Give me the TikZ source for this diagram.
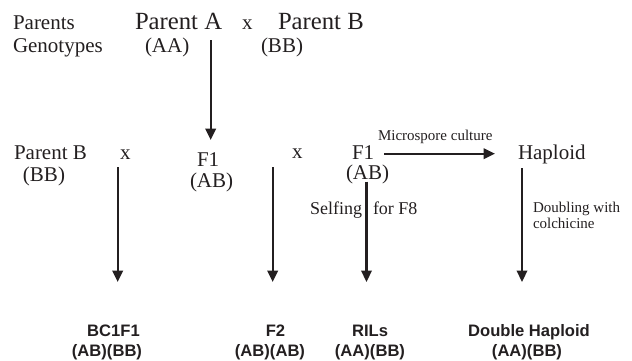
\documentclass[tikz,border=0pt]{standalone}
\usepackage{fontspec}
\setmainfont{Liberation Serif}
\newfontfamily\arialfont{Liberation Sans}
\usetikzlibrary{arrows.meta}
\definecolor{ink}{RGB}{35,31,32}
\tikzset{
  txt/.style={inner sep=0pt, outer sep=0pt, text=ink, anchor=base west},
  big/.style={txt, font=\fontsize{24.7}{28}\selectfont},
  mid/.style={txt, font=\fontsize{21}{25}\selectfont},
  sel/.style={txt, font=\fontsize{18}{21}\selectfont},
  sml/.style={txt, font=\fontsize{15}{18}\selectfont},
  res/.style={inner sep=0pt, outer sep=0pt, text=ink, anchor=base, font=\arialfont\bfseries\fontsize{16.6}{20}\selectfont},
  arr/.style={draw=ink, line width=2.2pt, -{Triangle[width=10.5pt,length=11.5pt]}}
}
\begin{document}
\begin{tikzpicture}[x=1pt,y=-1pt]
\useasboundingbox (0,0) rectangle (632,360);
% top row
\node[mid] (parents) at (13,29) {Parents};
\node[mid] (genotypes) at (13,52) {Genotypes};
\node[big] (pA) at (135,29) {Parent A};
\node[mid] (x0) at (242,29) {x};
\node[big] (pB) at (278,29) {Parent B};
\node[mid] (aa) at (145,52) {(AA)};
\node[mid] (bb) at (261,52) {(BB)};
% middle row
\node[mid] (pB2) at (14,159) {Parent B};
\node[mid] (bb2) at (23,181.5) {(BB)};
\node[mid] (x1) at (120,159) {x};
\node[mid] (f1a) at (197,166) {F1};
\node[mid] (ab1) at (190,187) {(AB)};
\node[mid] (x2) at (292,158) {x};
\node[mid] (f1b) at (352,159) {F1};
\node[mid] (ab2) at (346,179.5) {(AB)};
\node[mid] (hap) at (518,159) {Haploid};
\node[sml] (micro) at (378,140) {Microspore culture};
\node[sel, anchor=base east] (selfing) at (362,214) {Selfing};
\node[sel] (forf8) at (373,214) {for F8};
\node[sml] (doubling) at (533,212) {Doubling with};
\node[sml] (colch) at (533,228) {colchicine};
% bottom results
\node[res] (bc1f1) at (113.5,336) {BC1F1};
\node[res] (bc1f1g) at (107,356.5) {(AB)(BB)};
\node[res] (f2) at (275.5,336) {F2};
\node[res] (f2g) at (270,356.5) {(AB)(AB)};
\node[res] (rils) at (370,336) {RILs};
\node[res] (rilsg) at (370,356.5) {(AA)(BB)};
\node[res] (dh) at (529,336) {Double Haploid};
\node[res] (dhg) at (527,356.5) {(AA)(BB)};
% connector end points
\coordinate (c0s) at (210.7,40);
\coordinate (c0e) at (210.7,140);
\coordinate (c1s) at (117.7,167.3);
\coordinate (c1e) at (117.7,282);
\coordinate (c2s) at (272.7,167.3);
\coordinate (c2e) at (272.7,282);
\coordinate (c3s) at (366.5,181.7);
\coordinate (c3e) at (366.5,282);
\coordinate (c4s) at (522,168);
\coordinate (c4e) at (522,282);
\coordinate (hs) at (384,153.7);
\coordinate (he) at (495,153.7);
% connectors
\draw[arr] (c0s) -- (c0e);
\draw[arr] (c1s) -- (c1e);
\draw[arr] (c2s) -- (c2e);
\draw[arr] (c3s) -- (c3e);
\draw[arr] (c4s) -- (c4e);
\draw[arr] (hs) -- (he);
\end{tikzpicture}
\end{document}
